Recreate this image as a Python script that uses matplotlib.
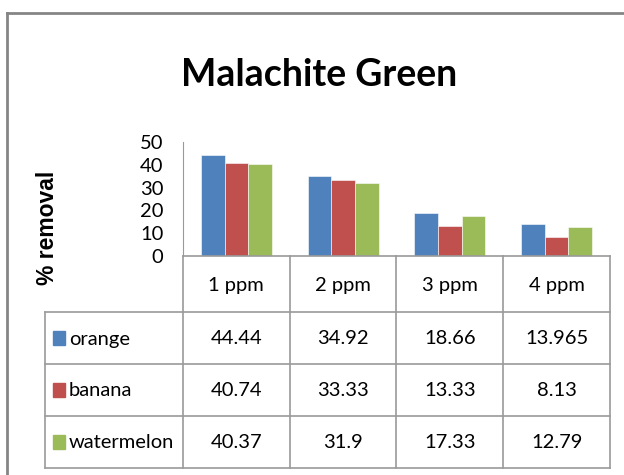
import matplotlib

matplotlib.use("Agg")
import matplotlib.pyplot as plt
from matplotlib.lines import Line2D
from matplotlib.patches import Rectangle

categories = ["1 ppm", "2 ppm", "3 ppm", "4 ppm"]
series_names = ["orange", "banana", "watermelon"]
orange = [44.44, 34.92, 18.66, 13.965]
banana = [40.74, 33.33, 13.33, 8.13]
watermelon = [40.37, 31.9, 17.33, 12.79]
value_labels = [
    ["44.44", "34.92", "18.66", "13.965"],
    ["40.74", "33.33", "13.33", "8.13"],
    ["40.37", "31.9", "17.33", "12.79"],
]
y_ticks = [0, 10, 20, 30, 40, 50]
colors = ["#4F81BD", "#C0504D", "#9BBB59"]

W, H = 624, 475
FONT = ["Lato", "DejaVu Sans"]
GRID = "#9a9a9a"
FS = 14.5


def frac(x0, y0, x1, y1):
    # pixel box (top-left origin) -> figure fraction rect
    return [x0 / W, 1 - y1 / H, (x1 - x0) / W, (y1 - y0) / H]


fig = plt.figure(figsize=(W / 100, H / 100), dpi=100)

# outer chart frame (only left and top edges visible)
fig.add_artist(Line2D([7 / W, 7 / W], [0, 1 - 13 / H], color="#858585", lw=2))
fig.add_artist(Line2D([7 / W, 1], [1 - 13 / H, 1 - 13 / H], color="#858585", lw=2))

fig.text(319 / W, 1 - 75 / H, "Malachite Green", ha="center", va="center",
         fontsize=27, fontweight="bold", family=FONT)

# bars
ax = fig.add_axes(frac(183, 142, 610, 256))
n = len(series_names)
bw = 1 / 4.5
for i, vals in enumerate([orange, banana, watermelon]):
    xs = [c + 0.5 + (i - (n - 1) / 2) * bw for c in range(len(categories))]
    ax.bar(xs, vals, width=bw, color=colors[i], edgecolor="white", linewidth=0.4)
ax.set_xlim(0, len(categories))
ax.set_ylim(0, 50)
ax.set_yticks(y_ticks)
ax.set_yticklabels([str(t) for t in y_ticks], family=FONT, fontsize=FS)
ax.tick_params(axis="y", length=0, pad=14)
ax.set_xticks([])
for s in ("top", "right", "bottom"):
    ax.spines[s].set_visible(False)
ax.spines["left"].set_color(GRID)

fig.text(48 / W, 1 - 228 / H, "% removal", rotation=90, ha="center", va="center",
         fontsize=16.5, fontweight="bold", family=["Liberation Sans", "DejaVu Sans"])

# data table
tx = fig.add_axes(frac(45, 256, 610, 468))
first = (183 - 45) / 107
tx.set_xlim(-first, len(categories))
row_edges = [0, 56, 108, 160, 212]
tx.set_ylim(row_edges[-1], 0)
tx.axis("off")

kw = dict(color=GRID, lw=1.2, clip_on=False)
tx.plot([0, len(categories)], [0, 0], **kw)
for c in range(len(categories) + 1):
    tx.plot([c, c], [0, row_edges[-1]], **kw)
tx.plot([-first, -first], [row_edges[1], row_edges[-1]], **kw)
for y in row_edges[1:]:
    tx.plot([-first, len(categories)], [y, y], **kw)

for c, cat in enumerate(categories):
    tx.text(c + 0.5, (row_edges[0] + row_edges[1]) / 2 + 2, cat, ha="center", va="center",
            fontsize=FS, family=FONT)

for r, name in enumerate(series_names):
    yc = (row_edges[r + 1] + row_edges[r + 2]) / 2
    tx.add_patch(Rectangle((-first + 8 / 107, yc - 7), 12 / 107, 14,
                           color=colors[r], clip_on=False))
    tx.text(-first + 24 / 107, yc + 1, name, ha="left", va="center",
            fontsize=FS, family=FONT)
    for c, lab in enumerate(value_labels[r]):
        tx.text(c + 0.5, yc + 1, lab, ha="center", va="center",
                fontsize=FS, family=FONT)

fig.savefig("out.png", dpi=100)
